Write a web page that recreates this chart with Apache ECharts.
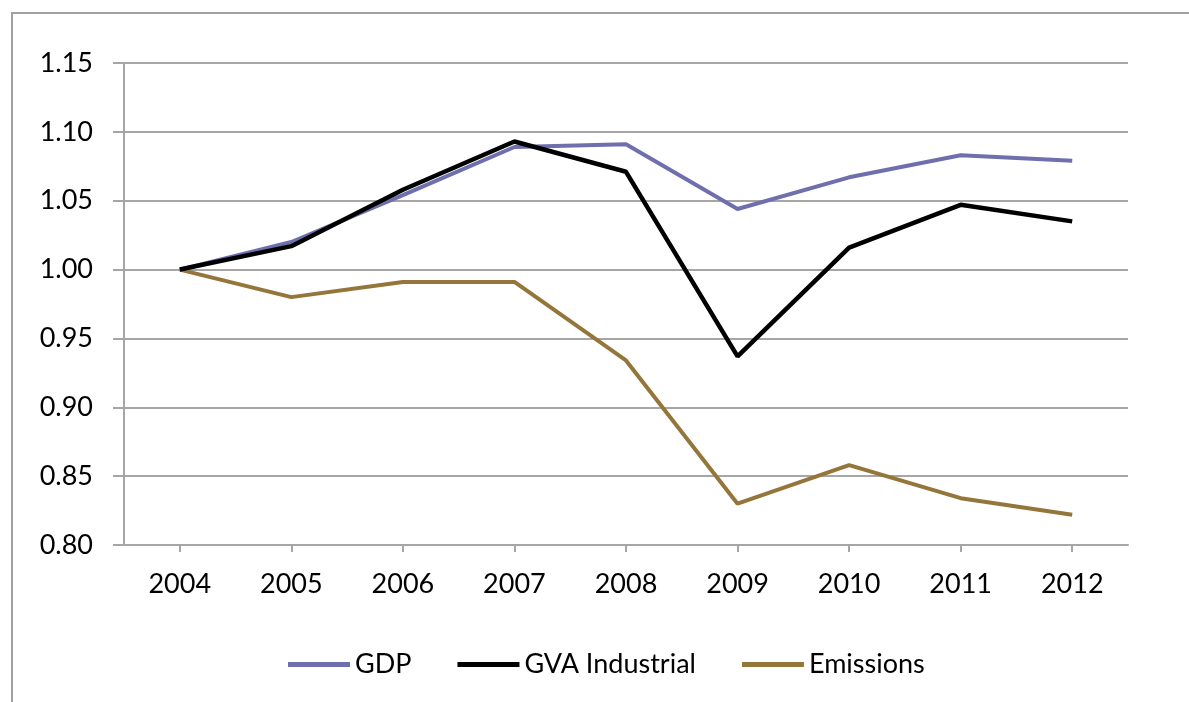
<!DOCTYPE html>
<html>
<head>
<meta charset="utf-8">
<script src="https://cdn.jsdelivr.net/npm/echarts@6/dist/echarts.min.js"></script>
<style>
  html, body { margin: 0; padding: 0; background: #fff; }
  #chart { width: 1189px; height: 702px; }
</style>
</head>
<body>
<div id="chart"></div>
<script>
// data (index, 2004 = 1.00)
var years = ['2004', '2005', '2006', '2007', '2008', '2009', '2010', '2011', '2012'];
var gdp = [1.000, 1.020, 1.054, 1.089, 1.091, 1.044, 1.067, 1.083, 1.079];
var gvaIndustrial = [1.000, 1.017, 1.058, 1.093, 1.071, 0.937, 1.016, 1.047, 1.035];
var emissions = [1.000, 0.980, 0.991, 0.991, 0.934, 0.830, 0.858, 0.834, 0.822];

var font = 'Lato, "Open Sans", sans-serif';
var gridColor = '#a6a6a6';

var mychart = echarts.init(document.getElementById('chart'));
var option = {
  animation: false,
  textStyle: { fontFamily: font },
  // outer frame of the chart
  graphic: [{
    type: 'rect',
    shape: { x: 12, y: 13, width: 1200, height: 720 },
    style: { fill: 'none', stroke: '#a0a0a0', lineWidth: 2 },
    silent: true
  }],
  grid: { left: 124, right: 61, top: 63, bottom: 157 },
  legend: {
    left: 283,
    top: 646,
    icon: 'rect',
    itemWidth: 62,
    itemHeight: 5,
    itemGap: 46,
    textStyle: { fontFamily: font, fontSize: 27, color: '#000' },
    data: ['GDP', 'GVA Industrial', 'Emissions']
  },
  xAxis: {
    type: 'category',
    data: years,
    boundaryGap: true,
    axisLine: { lineStyle: { color: gridColor, width: 2 } },
    axisTick: { show: true, alignWithLabel: true, length: 7, lineStyle: { color: gridColor, width: 2 } },
    axisLabel: { fontFamily: font, fontSize: 27, color: '#000', margin: 26 },
    splitLine: { show: false }
  },
  yAxis: {
    type: 'value',
    min: 0.8,
    max: 1.15,
    interval: 0.05,
    axisLine: { show: true, lineStyle: { color: gridColor, width: 2 } },
    axisTick: { show: true, length: 11, lineStyle: { color: gridColor, width: 2 } },
    axisLabel: {
      fontFamily: font, fontSize: 27, color: '#000', margin: 31,
      formatter: function (v) { return v.toFixed(2); }
    },
    splitLine: { show: true, lineStyle: { color: gridColor, width: 2 } }
  },
  series: [
    {
      name: 'GDP', type: 'line', data: gdp, symbol: 'none',
      lineStyle: { color: '#6f6fae', width: 4 }, itemStyle: { color: '#6f6fae' }, z: 3
    },
    {
      name: 'GVA Industrial', type: 'line', data: gvaIndustrial, symbol: 'none',
      lineStyle: { color: '#000000', width: 4.5 }, itemStyle: { color: '#000000' }, z: 4
    },
    {
      name: 'Emissions', type: 'line', data: emissions, symbol: 'none',
      lineStyle: { color: '#94763a', width: 4 }, itemStyle: { color: '#94763a' }, z: 2
    }
  ]
};
mychart.setOption(option);
</script>
</body>
</html>
